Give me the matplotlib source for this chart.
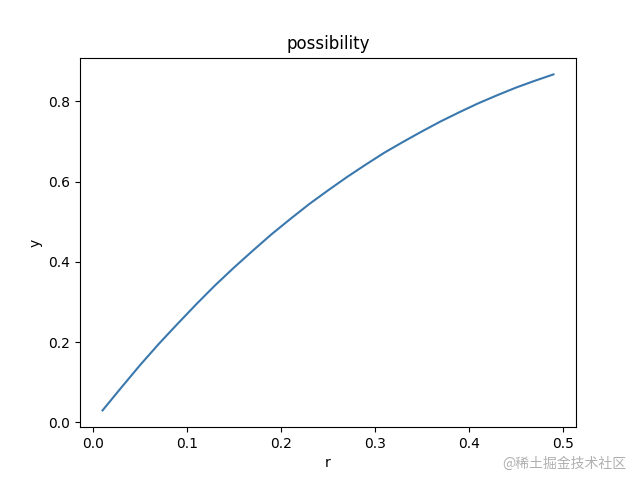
import matplotlib
matplotlib.use("Agg")
import matplotlib.pyplot as plt

# values
r = [0.01, 0.03, 0.05, 0.07, 0.09, 0.11, 0.13, 0.15, 0.17, 0.19, 0.21, 0.23, 0.25,
     0.27, 0.29, 0.31, 0.33, 0.35, 0.37, 0.39, 0.41, 0.43, 0.45, 0.47, 0.49]
y = [0.030, 0.087, 0.143, 0.196, 0.246, 0.295, 0.342, 0.386, 0.428, 0.469, 0.507,
     0.544, 0.578, 0.611, 0.642, 0.672, 0.699, 0.725, 0.750, 0.773, 0.795, 0.815,
     0.834, 0.851, 0.867]

fig = plt.figure(figsize=(6.4, 4.8), dpi=100)
plt.plot(r, y, color="#3a78ad")
plt.title("possibility")
plt.xlabel("r")
plt.ylabel("y")

# watermark
fig.text(0.978, 0.035, "@稀土掘金技术社区", ha="right", va="center",
         fontsize=10, color="#b0b0b0",
         family=["Noto Sans CJK SC", "DejaVu Sans"])

plt.savefig("out.png")
plt.close()
